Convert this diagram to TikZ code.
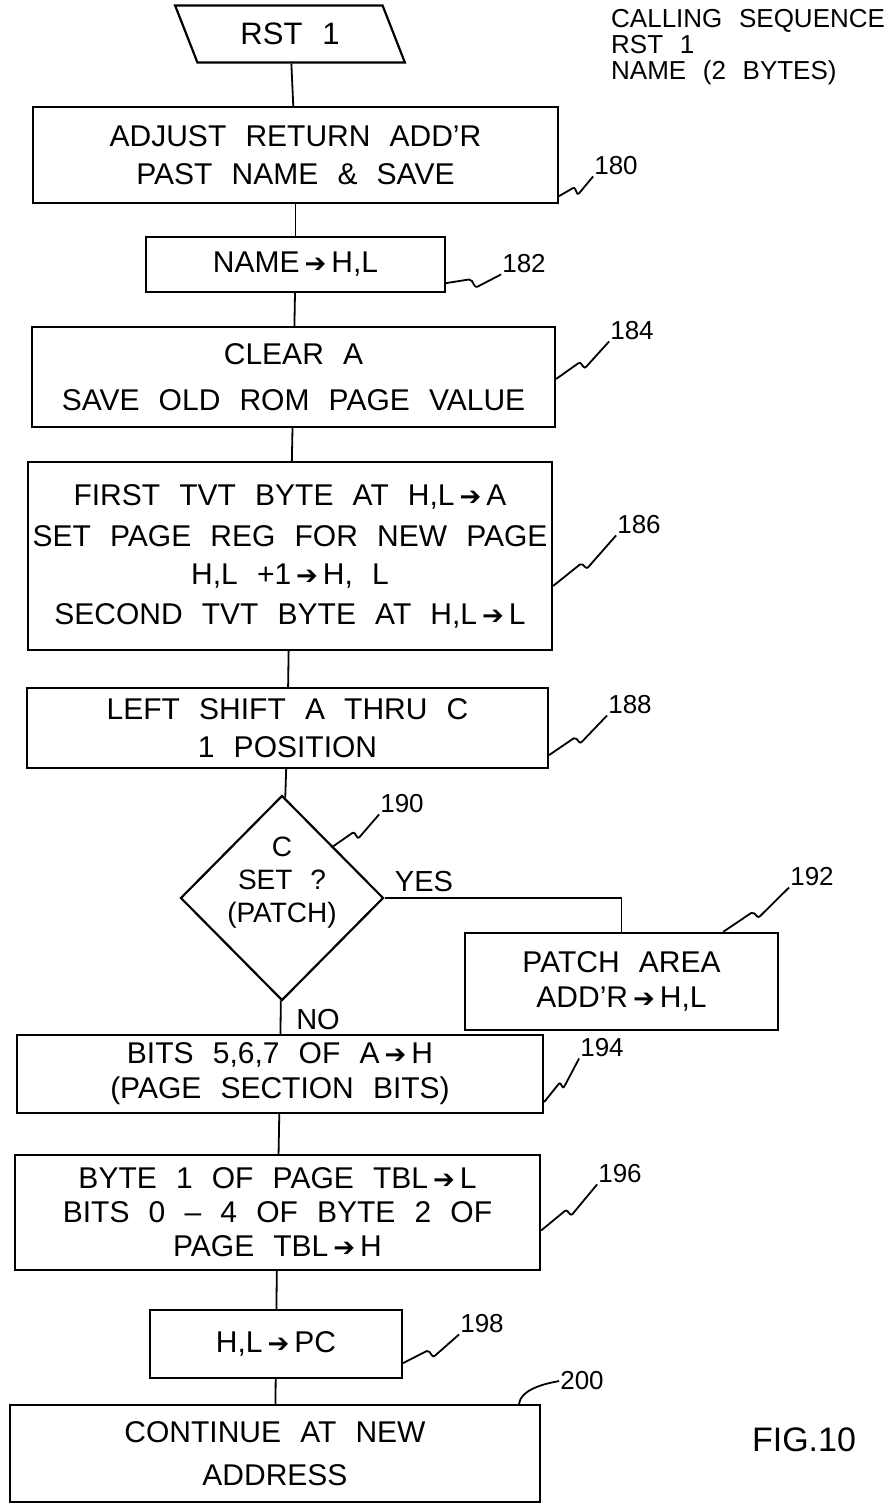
\documentclass[tikz,border=0pt]{standalone}
\usepackage{fontspec}
\setmainfont{Liberation Sans}[WordSpace=2.3]
\newfontfamily\arrfont{DejaVu Sans}
\usetikzlibrary{calc,positioning,shapes.geometric}
\tikzset{%
  % Specifications for style of nodes:
  base/.style = {rectangle, draw=black, line width=2.2pt, inner sep=2pt,
    align=center, font=\fontsize{30}{38}\selectfont},
  startio/.style = {trapezium, trapezium left angle=114, trapezium right angle=66,
    trapezium stretches=true, draw=black, line width=2.2pt,
    minimum width=230pt, minimum height=57pt, font=\fontsize{31}{38}\selectfont},
  decision/.style = {diamond, draw=black, line width=2.2pt, inner sep=0pt,
    minimum width=203pt, minimum height=205pt},
  dectext/.style = {align=center, inner sep=0pt, font=\fontsize{28}{33}\selectfont},
  note/.style = {align=left, inner sep=0pt, font=\fontsize{26}{26}\selectfont},
  answer/.style = {inner sep=1pt, font=\fontsize{29}{29}\selectfont},
  refnum/.style = {inner sep=1pt, font=\fontsize{26}{26}\selectfont},
  flow/.style = {line width=1.8pt},
  leader/.style = {line width=1.8pt, rounded corners=2pt},
}
% heavy arrow glyph used in the box texts
\newcommand{\arr}{\,{\arrfont\fontsize{26}{26}\selectfont ➔}\,}
% wavy leader from a box to its reference number
\newcommand{\squig}[2]{\draw[leader] (#1) -- ($(#1)!0.45!(#2)$)
  -- ($(#1)!0.52!(#2)+(1,9)$) -- (#2);}

\begin{document}
\begin{tikzpicture}[x=1pt,y=-1pt]
    \useasboundingbox (0,0) rectangle (894,1507);
    % Specification of nodes (position, etc.)
    \node(Rst)[startio] at (290,34) {RST 1};
    \node(Calling)[note, anchor=north west] at (611,9) {CALLING SEQUENCE\\RST 1\\NAME (2 BYTES)};
    \node(Adjust)[base, minimum width=525pt, minimum height=96pt] at (295.5,155) {
      ADJUST RETURN ADD'R \\
      PAST NAME \& SAVE
    };
    \node(NameHL)[base, minimum width=299pt, minimum height=55pt] at (295.5,264.5) {NAME\arr H,L};
    \node(ClearA)[base, minimum width=523pt, minimum height=100pt] at (293.5,377) {
      CLEAR A \\[8pt]
      SAVE OLD ROM PAGE VALUE
    };
    \node(TvtByte)[base, minimum width=524pt, minimum height=188pt] at (290,556) {
      FIRST TVT BYTE AT H,L\arr A \\[3pt]
      SET PAGE REG FOR NEW PAGE \\
      H,L +1\arr H, L \\[2pt]
      SECOND TVT BYTE AT H,L\arr L
    };
    \node(Shift)[base, minimum width=521pt, minimum height=80pt] at (287.5,728) {
      LEFT SHIFT A THRU C \\
      1 POSITION
    };
    \node(CSet)[decision] at (282,898) {};
    \node(CSetText)[dectext] at (282,883) {C\\SET ?\\(PATCH)};
    \node(Patch)[base, minimum width=313pt, minimum height=97pt] at (621.5,981.5) {
      PATCH AREA \\[-3pt]
      ADD'R\arr H,L
    };
    \node(PageBits)[base, minimum width=526pt, minimum height=78pt] at (280,1074) {
      BITS 5,6,7 OF A\arr H \\[-3pt]
      (PAGE SECTION BITS)
    };
    \node(PageTbl)[base, minimum width=525pt, minimum height=115pt] at (277.5,1212.5) {
      BYTE 1 OF PAGE TBL\arr L \\[-4pt]
      BITS 0 – 4 OF BYTE 2 OF \\[-4pt]
      PAGE TBL\arr H
    };
    \node(HLPC)[base, minimum width=252pt, minimum height=68pt] at (276,1344) {H,L\arr PC};
    \node(Continue)[base, minimum width=530pt, minimum height=97pt] at (275,1453.5) {
      CONTINUE AT NEW \\[5pt]
      ADDRESS
    };
    \node(Yes)[answer] at (424,882) {YES};
    \node(No)[answer] at (318,1020) {NO};
    \node(Fig)[font=\fontsize{34}{34}\selectfont] at (804,1440) {FIG.10};
    % reference numbers
    \node(R180)[refnum] at (616,166) {180};
    \node(R182)[refnum] at (524,264) {182};
    \node(R184)[refnum] at (632,331) {184};
    \node(R186)[refnum] at (639,525) {186};
    \node(R188)[refnum] at (630,705) {188};
    \node(R190)[refnum] at (402,804) {190};
    \node(R192)[refnum] at (812,877) {192};
    \node(R194)[refnum] at (602,1048) {194};
    \node(R196)[refnum] at (620,1174) {196};
    \node(R198)[refnum] at (482,1324) {198};
    \node(R200)[refnum] at (582,1381) {200};
    % connectors
    \draw[flow](Rst) -- (Adjust);
    \draw[flow](Adjust) -- (NameHL);
    \draw[flow](NameHL) -- (ClearA);
    \draw[flow](ClearA) -- (TvtByte);
    \draw[flow](TvtByte) -- (Shift);
    \draw[flow](Shift) -- (CSet);
    \draw[flow](CSet.east) -| (Patch.north);
    \draw[flow](CSet) -- (PageBits);
    \draw[flow](PageBits) -- (PageTbl);
    \draw[flow](PageTbl) -- (HLPC);
    \draw[flow](HLPC) -- (Continue);
    % leaders
    \squig{$(Adjust.south east)+(0,-8)$}{R180.south west}
    \squig{$(NameHL.south east)+(0,-10)$}{R182.south west}
    \squig{$(ClearA.east)+(0,2)$}{R184.south west}
    \squig{$(TvtByte.east)+(0,30)$}{R186.south west}
    \squig{$(Shift.south east)+(0,-14)$}{R188.south west}
    \squig{$(CSet.north)!0.5!(CSet.east)$}{R190.south west}
    \squig{$(Patch.north east)+(-56,0)$}{R192.south west}
    \squig{$(PageBits.south east)+(0,-12)$}{R194.south west}
    \squig{$(PageTbl.east)+(0,18)$}{R196.south west}
    \squig{$(HLPC.south east)+(0,-16)$}{R198.south west}
    \draw[leader] ($(Continue.north east)+(-22,0)$) .. controls +(2,-16) and +(-10,2) .. (R200.west);
\end{tikzpicture}
\end{document}
